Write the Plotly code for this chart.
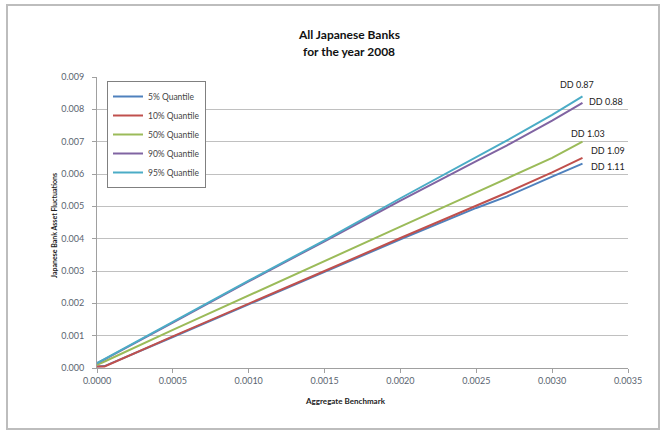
import plotly.graph_objects as go

# Data
benchmark = [0.0, 0.00005, 0.0005, 0.0010, 0.0015, 0.0020, 0.0025, 0.0027, 0.0030, 0.0032]
q05 = [0.00005, 0.00006, 0.00096, 0.00196, 0.00297, 0.00398, 0.00495, 0.00530, 0.00592, 0.00632]
q10 = [0.00005, 0.00005, 0.00098, 0.00198, 0.00300, 0.00402, 0.00502, 0.00542, 0.00605, 0.00650]
q50 = [0.00010, 0.00020, 0.00118, 0.00225, 0.00330, 0.00437, 0.00543, 0.00585, 0.00650, 0.00700]
q90 = [0.00015, 0.00027, 0.00140, 0.00268, 0.00392, 0.00518, 0.00640, 0.00688, 0.00765, 0.00820]
q95 = [0.00015, 0.00028, 0.00143, 0.00270, 0.00395, 0.00525, 0.00652, 0.00703, 0.00783, 0.00840]

series_names = ["5% Quantile", "10% Quantile", "50% Quantile", "90% Quantile", "95% Quantile"]
series_values = [q05, q10, q50, q90, q95]
series_colors = ["#4F81BD", "#C0504D", "#9BBB59", "#8064A2", "#4BACC6"]

dd_labels = ["DD 0.87", "DD 0.88", "DD 1.03", "DD 1.09", "DD 1.11"]
dd_x = [0.003164, 0.003355, 0.003236, 0.003368, 0.003368]
dd_y = [0.00878, 0.00825, 0.00724, 0.00674, 0.00623]

x_ticks = [0.0, 0.0005, 0.0010, 0.0015, 0.0020, 0.0025, 0.0030, 0.0035]
y_ticks = [0.000, 0.001, 0.002, 0.003, 0.004, 0.005, 0.006, 0.007, 0.008, 0.009]

FONT = "Lato"
W, H = 662, 432
L, R, T, B = 97, 34, 77, 64
pw, ph = W - L - R, H - T - B

def px(xp):
    return (xp - L) / pw

def py(yp):
    return (H - B - yp) / ph

fig = go.Figure()
for name, vals, col in zip(series_names, series_values, series_colors):
    fig.add_trace(go.Scatter(x=benchmark, y=vals, mode="lines", name=name,
                             line=dict(color=col, width=2)))

for lab, xv, yv in zip(dd_labels, dd_x, dd_y):
    fig.add_annotation(x=xv, y=yv, text=lab, showarrow=False,
                       font=dict(family=FONT, size=9, color="#222222"))

# titles
fig.add_annotation(x=px(349), y=py(25), xref="paper", yref="paper", showarrow=False,
                   text="<b>All Japanese Banks</b>", font=dict(family=FONT, size=12, color="#111"))
fig.add_annotation(x=px(349), y=py(42), xref="paper", yref="paper", showarrow=False,
                   text="<b>for the year 2008</b>", font=dict(family=FONT, size=12, color="#111"))
fig.add_annotation(x=px(345), y=py(408), xref="paper", yref="paper", showarrow=False,
                   text="<b>Aggregate Benchmark</b>", font=dict(family=FONT, size=8, color="#222"))
fig.add_annotation(x=px(48), y=py(226), xref="paper", yref="paper", showarrow=False,
                   textangle=-90,
                   text="<b>Japanese Bank Asset Fluctuations</b>", font=dict(family=FONT, size=7, color="#222"))

# outer chart frame
fig.add_shape(type="rect", xref="paper", yref="paper",
              x0=px(7), x1=px(659), y0=py(429), y1=py(5),
              line=dict(color="#bdbdbd", width=2), layer="above")

fig.update_layout(
    width=W, height=H,
    margin=dict(l=L, r=R, t=T, b=B),
    paper_bgcolor="white", plot_bgcolor="white",
    font=dict(family=FONT, size=9, color="#555"),
    showlegend=True,
    legend=dict(x=px(107), y=py(81), xanchor="left", yanchor="top",
                bgcolor="white", bordercolor="#808080", borderwidth=1,
                font=dict(family=FONT, size=8.5, color="#444"),
                itemwidth=30, tracegroupgap=0),
)
fig.update_xaxes(range=[0, 0.0035], tickvals=x_ticks,
                 ticktext=[f"{v:.4f}" for v in x_ticks],
                 showgrid=False, zeroline=False, showline=True, linecolor="#a0a0a0",
                 ticks="outside", ticklen=4, tickcolor="#a0a0a0",
                 tickfont=dict(family=FONT, size=9, color="#5a6470"))
fig.update_yaxes(range=[0, 0.009], tickvals=y_ticks,
                 ticktext=[f"{v:.3f}" for v in y_ticks],
                 showgrid=True, gridcolor="#c0c0c0", gridwidth=1,
                 zeroline=False, showline=True, linecolor="#a0a0a0",
                 ticks="outside", ticklen=4, tickcolor="#a0a0a0",
                 ticklabelstandoff=6,
                 tickfont=dict(family=FONT, size=9, color="#5a6470"))

fig.write_html("out.html", config={"displayModeBar": False},
               post_script="document.body.style.margin='0';document.body.style.overflow='hidden';")
